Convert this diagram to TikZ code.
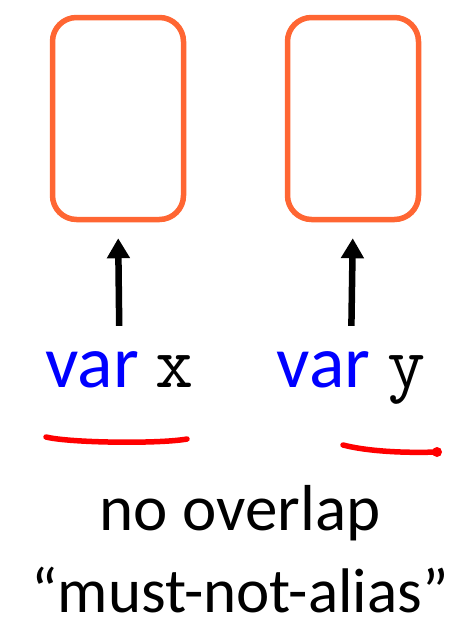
\documentclass[tikz,border=0pt]{standalone}
\usepackage{fontspec}
\setmainfont{Carlito}
\usetikzlibrary{arrows.meta,positioning}
\definecolor{boxorange}{RGB}{255,102,51}
\definecolor{varblue}{RGB}{0,0,255}

\begin{document}
\begin{tikzpicture}[x=1pt, y=-1pt,
    membox/.style={draw=boxorange, line width=5.5pt, rounded corners=24pt,
                minimum width=131pt, minimum height=202pt},
    varlbl/.style={anchor=base, inner sep=0pt, font=\fontsize{74}{88}\selectfont},
    note/.style={anchor=base, inner sep=0pt, font=\fontsize{65}{78}\selectfont},
    arr/.style={-{Triangle[width=22pt,length=20pt]}, line width=6.5pt},
    underline/.style={red, line width=5.5pt, line cap=round}
  ]
    \useasboundingbox (0,0) rectangle (474,621);

    % Memory boxes
    \node[membox] (boxx) at (118,118.5) {};
    \node[membox] (boxy) at (353,118.5) {};

    % Variables
    \node[varlbl] (varx) at (119.5,387) {\textcolor{varblue}{var} \texttt{x}};
    \node[varlbl] (vary) at (351,387)   {\textcolor{varblue}{var} \texttt{y}};

    % Arrows into boxes
    \draw[arr, shorten <=25pt, shorten >=16pt] (varx.north) -- (boxx.south);
    \draw[arr, shorten <=25pt, shorten >=16pt] (vary.north) -- (boxy.south);

    % Underlines
    \draw[underline] (46,437) .. controls (70,443) and (160,444) .. (187,439);
    \draw[underline] (343,445) .. controls (370,452) and (410,453) .. (437,452);
    \fill[red] (437,452) circle (5pt);

    % Caption
    \node[note] (noov)  at (240,530) {no overlap};
    \node[note, font=\fontsize{63}{76}\selectfont] (alias) at (240,612)
      {“must-not-alias”};
\end{tikzpicture}
\end{document}
